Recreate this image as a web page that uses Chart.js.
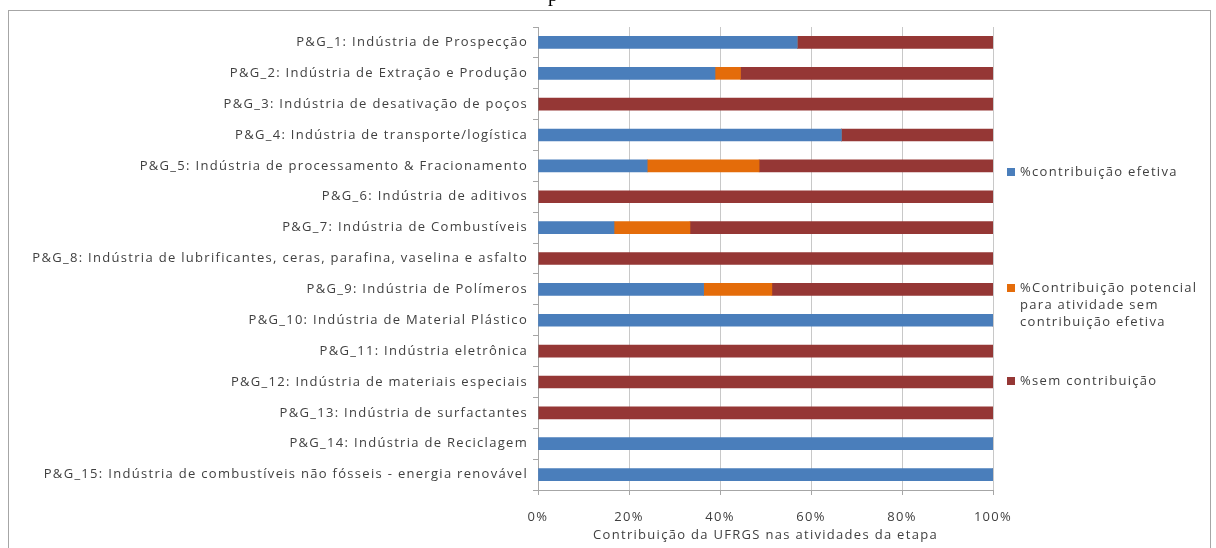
<!DOCTYPE html>
<html>
<head>
<meta charset="utf-8">
<script src="https://cdn.jsdelivr.net/npm/chart.js@4/dist/chart.umd.min.js"></script>
<style>
  html, body { margin: 0; padding: 0; background: #fff; }
</style>
</head>
<body>
<canvas id="grafico" width="1216" height="548"></canvas>
<script>
const categorias = [
  'P&G_1: Indústria de Prospecção',
  'P&G_2: Indústria de Extração e Produção',
  'P&G_3: Indústria de desativação de poços',
  'P&G_4: Indústria de transporte/logística',
  'P&G_5: Indústria de processamento & Fracionamento',
  'P&G_6: Indústria de aditivos',
  'P&G_7: Indústria de Combustíveis',
  'P&G_8: Indústria de lubrificantes, ceras, parafina, vaselina e asfalto',
  'P&G_9: Indústria de Polímeros',
  'P&G_10: Indústria de Material Plástico',
  'P&G_11: Indústria eletrônica',
  'P&G_12: Indústria de materiais especiais',
  'P&G_13: Indústria de surfactantes',
  'P&G_14: Indústria de Reciclagem',
  'P&G_15: Indústria de combustíveis não fósseis - energia renovável'
];
const contribEfetiva   = [57, 38.9, 0, 66.7, 24, 0, 16.7, 0, 36.4, 100, 0, 0, 0, 100, 100];
const contribPotencial = [0, 5.6, 0, 0, 24.6, 0, 16.7, 0, 15, 0, 0, 0, 0, 0, 0];
const semContrib       = [43, 55.5, 100, 33.3, 51.4, 100, 66.6, 100, 48.6, 0, 100, 100, 100, 0, 0];
const legendaLinhas = [
  ['%contribuição efetiva'],
  ['%Contribuição potencial', 'para atividade sem', 'contribuição efetiva'],
  ['%sem contribuição']
];
const xTicks = [0, 20, 40, 60, 80, 100];

const fonte = '"Open Sans", sans-serif';
const corTexto = '#404040';
const espaco = '1.3px';

// o texto da imagem original parece esticado na horizontal
const espacamento = {
  id: 'espacamento',
  beforeDraw(chart) { chart.ctx.letterSpacing = espaco; }
};

const legendaPlugin = {
  id: 'legendaLateral',
  afterDraw(chart) {
    const ctx = chart.ctx;
    const ys = [172, 288, 381];
    ctx.save();
    ctx.letterSpacing = espaco;
    ctx.font = '13px ' + fonte;
    ctx.textBaseline = 'middle';
    chart.data.datasets.forEach((ds, i) => {
      ctx.fillStyle = ds.backgroundColor;
      ctx.fillRect(1007, ys[i] - 4, 8, 8);
      ctx.fillStyle = corTexto;
      legendaLinhas[i].forEach((t, j) => ctx.fillText(t, 1020, ys[i] + j * 17));
    });
    // moldura
    ctx.strokeStyle = '#a6a6a6';
    ctx.lineWidth = 1;
    ctx.strokeRect(8.5, 10.5, 1202, 560);
    // resto do texto acima (cortado)
    ctx.letterSpacing = '0px';
    ctx.fillStyle = '#000';
    ctx.font = '20px "Liberation Serif", serif';
    ctx.textAlign = 'center';
    ctx.textBaseline = 'alphabetic';
    ctx.fillText('p', 553, 1);
    ctx.restore();
    ctx.letterSpacing = '0px';
  }
};

const ctx = document.getElementById('grafico');
new Chart(ctx, {
  type: 'bar',
  data: {
    labels: categorias,
    datasets: [
      { label: legendaLinhas[0].join(' '), data: contribEfetiva, backgroundColor: '#4a7ebb' },
      { label: legendaLinhas[1].join(' '), data: contribPotencial, backgroundColor: '#e46c0a' },
      { label: legendaLinhas[2].join(' '), data: semContrib, backgroundColor: '#953735' }
    ]
  },
  options: {
    indexAxis: 'y',
    responsive: false,
    animation: false,
    devicePixelRatio: 1,
    layout: { padding: { left: 20, right: 223, top: 27, bottom: 5 } },
    datasets: { bar: { barThickness: 12, borderWidth: 0 } },
    plugins: {
      legend: { display: false },
      tooltip: { enabled: false }
    },
    scales: {
      x: {
        stacked: true,
        min: 0,
        max: 100,
        afterBuildTicks: (s) => { s.ticks = xTicks.map(v => ({ value: v })); },
        afterFit: (s) => { s.height = 53; },
        grid: { color: '#c8c8c8', tickLength: 5, tickColor: '#a6a6a6' },
        border: { color: '#a6a6a6' },
        ticks: {
          callback: (v) => v + '%',
          color: corTexto,
          font: { family: fonte, size: 13 },
          padding: 14
        },
        title: {
          display: true,
          text: 'Contribuição da UFRGS nas atividades da etapa',
          color: corTexto,
          font: { family: fonte, size: 13 },
          padding: { top: 1, bottom: 0 }
        }
      },
      y: {
        stacked: true,
        afterFit: (s) => { s.width = 518; },
        grid: { drawOnChartArea: false, tickLength: 5, color: '#a6a6a6' },
        border: { color: '#a6a6a6' },
        ticks: {
          color: corTexto,
          font: { family: fonte, size: 13 },
          padding: 5,
          autoSkip: false
        }
      }
    }
  },
  plugins: [espacamento, legendaPlugin]
});
</script>
</body>
</html>
